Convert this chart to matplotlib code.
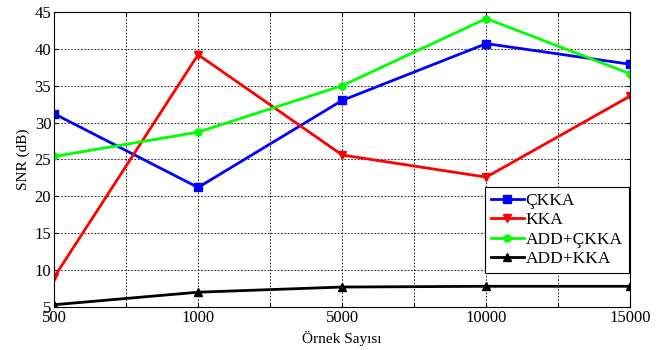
import matplotlib
matplotlib.use('Agg')
import matplotlib.pyplot as plt

# sample counts (categorical positions)
samples = ['500', '1000', '5000', '10000', '15000']
ckka = [31.2, 21.2, 33.0, 40.7, 37.9]
kka = [9.0, 39.2, 25.6, 22.6, 33.6]
add_ckka = [25.4, 28.7, 35.0, 44.1, 36.6]
add_kka = [5.3, 7.0, 7.7, 7.8, 7.8]

plt.rcParams['font.family'] = ['Liberation Serif', 'DejaVu Serif']
plt.rcParams['font.size'] = 12

fig = plt.figure(figsize=(6.67, 3.5), dpi=100)
ax = fig.add_axes([0.081, 0.123, 0.864, 0.843])

x = list(range(1, len(samples) + 1))
ax.plot(x, ckka, color='#0000ff', marker='s', markersize=6, lw=2, label='ÇKKA')
ax.plot(x, kka, color='#ff0000', marker='v', markersize=6, lw=2, label='KKA')
ax.plot(x, add_ckka, color='#00ff00', marker='o', markersize=5, lw=2, label='ADD+ÇKKA')
ax.plot(x, add_kka, color='#000000', marker='^', markersize=6, lw=2, label='ADD+KKA')

ax.set_xlim(1, 5)
ax.set_ylim(5, 45)
ticks = [1 + 0.5 * i for i in range(9)]
ax.set_xticks(ticks)
ax.set_xticklabels([samples[i // 2] if i % 2 == 0 else '' for i in range(9)])
ax.set_yticks(range(5, 46, 5))
ax.tick_params(direction='in', top=True, right=True, length=3, labelsize=12, pad=2)
ax.grid(True, linestyle=(0, (2, 2)), color='black', lw=0.6)

ax.set_xlabel('Örnek Sayısı', fontsize=11, labelpad=4)
ax.set_ylabel('SNR (dB)', fontsize=11, labelpad=3)

leg = ax.legend(loc='lower right', bbox_to_anchor=(0.997, 0.115), borderaxespad=0,
                fancybox=False, edgecolor='black', framealpha=1, fontsize=12.5,
                handlelength=1.9, handletextpad=0.1, borderpad=0.35, labelspacing=0.18)
leg.get_frame().set_linewidth(0.8)

fig.savefig('out.png', dpi=100)
